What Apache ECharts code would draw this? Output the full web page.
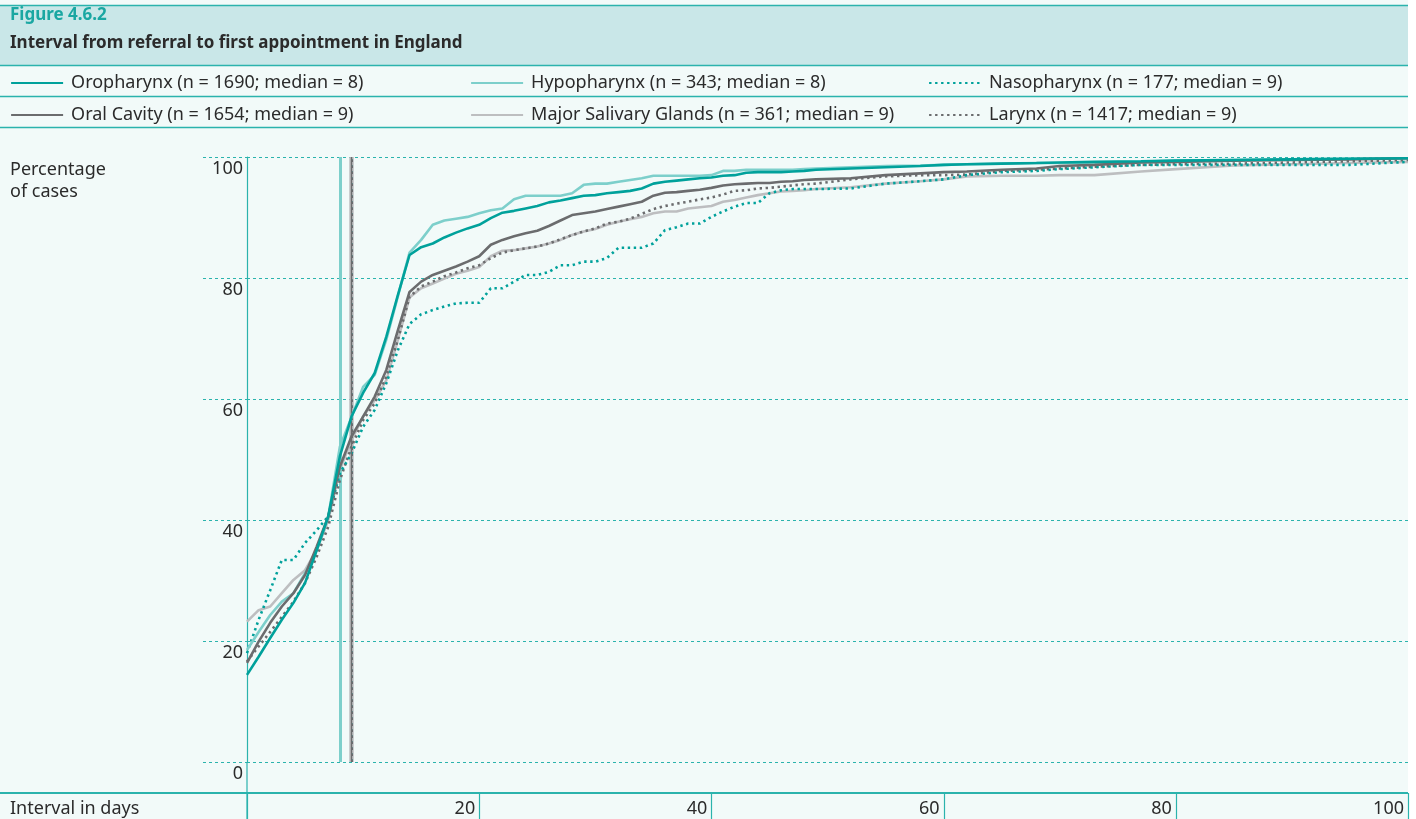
<!DOCTYPE html>
<html>
<head>
<meta charset="utf-8">
<script src="https://cdn.jsdelivr.net/npm/echarts@6/dist/echarts.min.js"></script>
<style>
  html, body { margin: 0; padding: 0; background: #ffffff; }
  #chart { width: 1416px; height: 819px; }
</style>
</head>
<body>
<div id="chart"></div>
<script>
// Days since referral at which the cumulative percentage is given
const days = [
  0, 1, 2, 3, 4, 5, 6, 7, 8, 9, 10, 11, 12, 13, 14, 15, 16, 17, 18, 19,
  20, 21, 22, 23, 24, 25, 26, 27, 28, 29, 30, 31, 32, 33, 34, 35, 36, 37, 38, 39,
  40, 41, 42, 43, 44, 45, 46, 47, 48, 49,
  52, 55, 58, 60, 62, 65, 68, 70, 73, 77, 80, 85, 90, 95, 100
];

// Cumulative percentage of cases seen by each day, per site
const oropharynx = [
  14.4, 17.4, 20.5, 23.5, 26.3, 29.6, 35.0, 40.6, 50.5, 57.1, 61.0, 64.3, 70.3, 77.2, 83.8, 85.1, 85.7, 86.7, 87.5, 88.2,
  88.8, 89.9, 90.8, 91.1, 91.5, 91.9, 92.5, 92.8, 93.2, 93.6, 93.7, 94.0, 94.2, 94.4, 94.8, 95.6, 95.9, 96.1, 96.3, 96.5,
  96.6, 96.9, 97.0, 97.4, 97.5, 97.5, 97.5, 97.6, 97.7, 97.9,
  98.1, 98.3, 98.5, 98.7, 98.8, 98.9, 99.0, 99.1, 99.2, 99.3, 99.4, 99.5, 99.6, 99.7, 99.8
];
const oralCavity = [
  16.4, 19.9, 23.0, 25.7, 27.9, 30.9, 35.6, 40.6, 48.8, 53.8, 57.1, 60.4, 64.8, 71.4, 77.7, 79.4, 80.5, 81.2, 81.9, 82.7,
  83.6, 85.5, 86.3, 86.9, 87.4, 87.8, 88.6, 89.5, 90.4, 90.7, 91.0, 91.4, 91.8, 92.2, 92.6, 93.6, 94.1, 94.2, 94.4, 94.6,
  94.9, 95.3, 95.5, 95.6, 95.7, 95.7, 95.9, 96.0, 96.2, 96.3,
  96.5, 97.0, 97.3, 97.5, 97.6, 97.9, 98.1, 98.5, 98.7, 99.1, 99.2, 99.4, 99.5, 99.6, 99.8
];
const hypopharynx = [
  18.5, 21.5, 24.3, 26.5, 27.9, 31.2, 35.0, 40.6, 52.1, 57.0, 62.0, 64.0, 69.8, 77.0, 84.2, 86.3, 88.8, 89.5, 89.8, 90.1,
  90.7, 91.2, 91.5, 93.0, 93.6, 93.6, 93.6, 93.6, 94.0, 95.4, 95.6, 95.6, 95.9, 96.2, 96.5, 96.9, 96.9, 96.9, 96.9, 96.9,
  97.0, 97.7, 97.7, 97.9, 97.9, 97.9, 97.9, 97.9, 98.0, 98.1,
  98.3, 98.5, 98.6, 98.7, 98.8, 98.9, 99.0, 99.0, 99.1, 99.2, 99.4, 99.5, 99.6, 99.7, 99.8
];
const salivary = [
  23.2, 25.1, 25.7, 27.9, 30.1, 31.7, 35.0, 40.0, 48.3, 53.2, 57.1, 59.8, 63.1, 69.8, 76.8, 78.3, 79.1, 79.9, 80.7, 81.2,
  81.8, 83.6, 84.5, 84.6, 84.9, 85.2, 85.7, 86.3, 87.1, 87.7, 88.1, 88.8, 89.3, 89.7, 90.1, 90.7, 91.0, 91.0, 91.5, 91.7,
  91.9, 92.6, 92.9, 93.3, 93.7, 94.0, 94.3, 94.4, 94.5, 94.7,
  95.0, 95.6, 96.0, 96.3, 96.8, 96.9, 96.9, 97.0, 97.0, 97.6, 98.0, 98.6, 98.8, 99.0, 99.2
];
const nasopharynx = [
  18.0, 23.5, 28.4, 33.4, 33.4, 36.2, 38.3, 40.6, 47.7, 51.0, 55.4, 58.2, 62.6, 68.1, 72.4, 74.0, 74.7, 75.3, 75.8, 75.9,
  75.9, 78.3, 78.3, 79.4, 80.5, 80.5, 81.0, 82.1, 82.1, 82.7, 82.7, 83.3, 85.0, 85.0, 85.0, 85.7, 87.9, 88.4, 89.0, 89.0,
  90.1, 91.0, 91.8, 92.4, 92.4, 94.0, 94.5, 94.7, 94.7, 94.7,
  94.8, 95.6, 96.0, 96.3, 97.0, 97.5, 97.7, 98.0, 98.3, 98.7, 98.7, 98.7, 98.7, 98.7, 99.2
];
const larynx = [
  16.6, 19.1, 21.5, 24.0, 26.5, 29.6, 33.9, 38.9, 46.6, 52.1, 56.5, 59.3, 63.7, 69.8, 76.9, 78.6, 79.4, 80.3, 80.9, 81.6,
  82.1, 83.3, 84.2, 84.6, 84.9, 85.2, 85.7, 86.4, 87.1, 87.7, 88.2, 89.0, 89.3, 89.8, 90.6, 91.4, 91.9, 92.3, 92.6, 93.0,
  93.3, 93.8, 94.4, 94.5, 94.8, 94.9, 95.1, 95.3, 95.5, 95.6,
  96.3, 96.8, 97.0, 97.0, 97.1, 97.7, 97.9, 98.1, 98.4, 98.7, 98.8, 98.9, 99.1, 99.3, 99.5
];

// Site names, case counts and median intervals (days)
const sites   = ['Oropharynx', 'Oral Cavity', 'Hypopharynx', 'Major Salivary Glands', 'Nasopharynx', 'Larynx'];
const cases   = [1690, 1654, 343, 361, 177, 1417];
const medians = [8, 9, 8, 9, 9, 9];
const values  = [oropharynx, oralCavity, hypopharynx, salivary, nasopharynx, larynx];

// Axis ticks
const xTicks = [0, 20, 40, 60, 80, 100];
const yTicks = [0, 20, 40, 60, 80, 100];

const TEAL = '#00a19b';
const RULE = '#2bb3ad';
const FONT = '"Noto Sans", "Open Sans", sans-serif';
const TEXT = '#2b2b2b';
const FS = 18;

// Drawing style per site: colour, dash pattern, width, median line width and stacking order
const styles = [
  { color: TEAL,      type: 'solid',    width: 2.6, mWidth: 2.5, z: 8, mz: 3 },
  { color: '#6b6c6e', type: 'solid',    width: 2.6, mWidth: 1.4, z: 7, mz: 6 },
  { color: '#7dcfcb', type: 'solid',    width: 2.6, mWidth: 3,   z: 6, mz: 4 },
  { color: '#bdbec0', type: 'solid',    width: 2.6, mWidth: 4.5, z: 3, mz: 2 },
  { color: TEAL,      type: [2.4, 3.6], width: 2.6, mWidth: 2,   z: 5, mz: 3 },
  { color: '#6b6c6e', type: [2.4, 3.6], width: 2.6, mWidth: 2,   z: 4, mz: 5 }
];

const labelOf = i => `${sites[i]} (n = ${cases[i]}; median = ${medians[i]})`;

const series = sites.map((s, i) => ({
  name: labelOf(i),
  type: 'line',
  z: styles[i].z,
  symbol: 'none',
  showSymbol: false,
  smooth: false,
  data: days.map((d, k) => [d, values[i][k]]),
  lineStyle: { color: styles[i].color, width: styles[i].width, type: styles[i].type, cap: 'butt' },
  itemStyle: { color: styles[i].color },
  markLine: {
    silent: true,
    symbol: 'none',
    label: { show: false },
    z: styles[i].mz,
    lineStyle: { color: styles[i].color, width: styles[i].mWidth, type: styles[i].type },
    data: [{ xAxis: medians[i] }]
  }
}));

// Legend: three columns, two rows
const legendSlots = [
  { i: 0, left: 10,  top: 72 },
  { i: 2, left: 470, top: 72 },
  { i: 4, left: 928, top: 72 },
  { i: 1, left: 10,  top: 104 },
  { i: 3, left: 470, top: 104 },
  { i: 5, left: 928, top: 104 }
];
const legends = legendSlots.map(p => ({
  data: [labelOf(p.i)],
  left: p.left,
  top: p.top,
  padding: 0,
  itemWidth: 52,
  itemHeight: 14,
  selectedMode: false,
  itemStyle: { opacity: 0 },
  lineStyle: { width: 2.2 },
  textStyle: { fontFamily: FONT, fontSize: FS, color: TEXT, padding: [0, 0, 0, 3], lineHeight: 22 }
}));

const option = {
  animation: false,
  backgroundColor: '#ffffff',
  textStyle: { fontFamily: FONT },
  legend: legends,
  grid: { left: 247, right: 8, top: 157, bottom: 57, containLabel: false },
  xAxis: {
    type: 'value',
    min: xTicks[0],
    max: xTicks[xTicks.length - 1],
    interval: 20,
    offset: 31,
    axisLine: { show: false },
    axisTick: { show: false },
    axisLabel: {
      showMinLabel: false,
      fontFamily: FONT, fontSize: FS, color: TEXT,
      align: 'right', margin: 7, padding: [0, 4, 0, 0]
    },
    splitLine: { show: false }
  },
  yAxis: {
    type: 'value',
    min: yTicks[0],
    max: yTicks[yTicks.length - 1],
    interval: 20,
    axisLine: { show: true, lineStyle: { color: RULE, width: 1.2 } },
    axisTick: { show: false },
    axisLabel: {
      fontFamily: FONT, fontSize: FS, color: TEXT,
      align: 'right', verticalAlign: 'top', margin: 4, padding: [3, 0, 0, 0]
    },
    splitLine: { show: true, lineStyle: { color: RULE, width: 1, type: [3, 3] } }
  },
  series: series
};

const chart = echarts.init(document.getElementById('chart'));
chart.setOption(option);

// Panel decorations placed from the axes' own pixel positions
const x0 = chart.convertToPixel({ xAxisIndex: 0 }, xTicks[0]);
const xEnd = chart.convertToPixel({ xAxisIndex: 0 }, xTicks[xTicks.length - 1]);
const yBottom = chart.convertToPixel({ yAxisIndex: 0 }, yTicks[0]);
const axisLineY = yBottom + 31;
const W = xEnd;

const graphic = [
  // panel background
  { type: 'rect', z: -10, silent: true, shape: { x: 0, y: 0, width: W, height: 819 }, style: { fill: '#f2faf9' } },
  // title band
  { type: 'rect', z: -9, silent: true, shape: { x: 0, y: 6, width: W, height: 59 }, style: { fill: '#c9e7e8' } },
  { type: 'line', z: -8, silent: true, shape: { x1: 0, y1: 5.5, x2: W, y2: 5.5 }, style: { stroke: RULE, lineWidth: 1.5 } },
  { type: 'line', z: -8, silent: true, shape: { x1: 0, y1: 65.5, x2: W, y2: 65.5 }, style: { stroke: RULE, lineWidth: 1.5 } },
  { type: 'line', z: -8, silent: true, shape: { x1: 0, y1: 96.5, x2: W, y2: 96.5 }, style: { stroke: RULE, lineWidth: 1.5 } },
  { type: 'line', z: -8, silent: true, shape: { x1: 0, y1: 127.5, x2: W, y2: 127.5 }, style: { stroke: RULE, lineWidth: 1.5 } },
  // titles
  { type: 'text', z: 5, silent: true, left: 10, top: 7,
    style: { text: 'Figure 4.6.2', fill: '#1aa7a2', font: `bold 17px ${FONT}` } },
  { type: 'text', z: 5, silent: true, left: 10, top: 35,
    style: { text: 'Interval from referral to first appointment in England', fill: TEXT, font: `bold 17px ${FONT}` } },
  // axis names
  { type: 'text', z: 5, silent: true, left: 10, top: 159,
    style: { text: 'Percentage\nof cases', fill: TEXT, font: `${FS}px ${FONT}`, lineHeight: 22 } },
  { type: 'text', z: 5, silent: true, left: 10, top: axisLineY + 5,
    style: { text: 'Interval in days', fill: TEXT, font: `${FS}px ${FONT}`, lineHeight: 22 } },
  // x axis rule across the full width and the y axis line carried down to the bottom
  { type: 'line', z: 5, silent: true, shape: { x1: 0, y1: axisLineY, x2: W, y2: axisLineY }, style: { stroke: RULE, lineWidth: 2 } },
  { type: 'line', z: 5, silent: true, shape: { x1: x0, y1: yBottom, x2: x0, y2: 819 }, style: { stroke: RULE, lineWidth: 1.2 } }
];

// separators between the x axis label cells
xTicks.forEach(v => {
  const x = Math.round(chart.convertToPixel({ xAxisIndex: 0 }, v)) + 0.5;
  graphic.push({ type: 'line', z: 5, silent: true, shape: { x1: x, y1: axisLineY, x2: x, y2: 819 },
    style: { stroke: RULE, lineWidth: 1.2 } });
});

// carry the dashed gridlines left into the label column
yTicks.forEach(v => {
  const y = Math.round(chart.convertToPixel({ yAxisIndex: 0 }, v)) + 0.5;
  graphic.push({ type: 'line', z: 1, silent: true, shape: { x1: 203, y1: y, x2: x0, y2: y },
    style: { stroke: RULE, lineWidth: 1, lineDash: [3, 3] } });
});

chart.setOption({ graphic: graphic });
</script>
</body>
</html>
